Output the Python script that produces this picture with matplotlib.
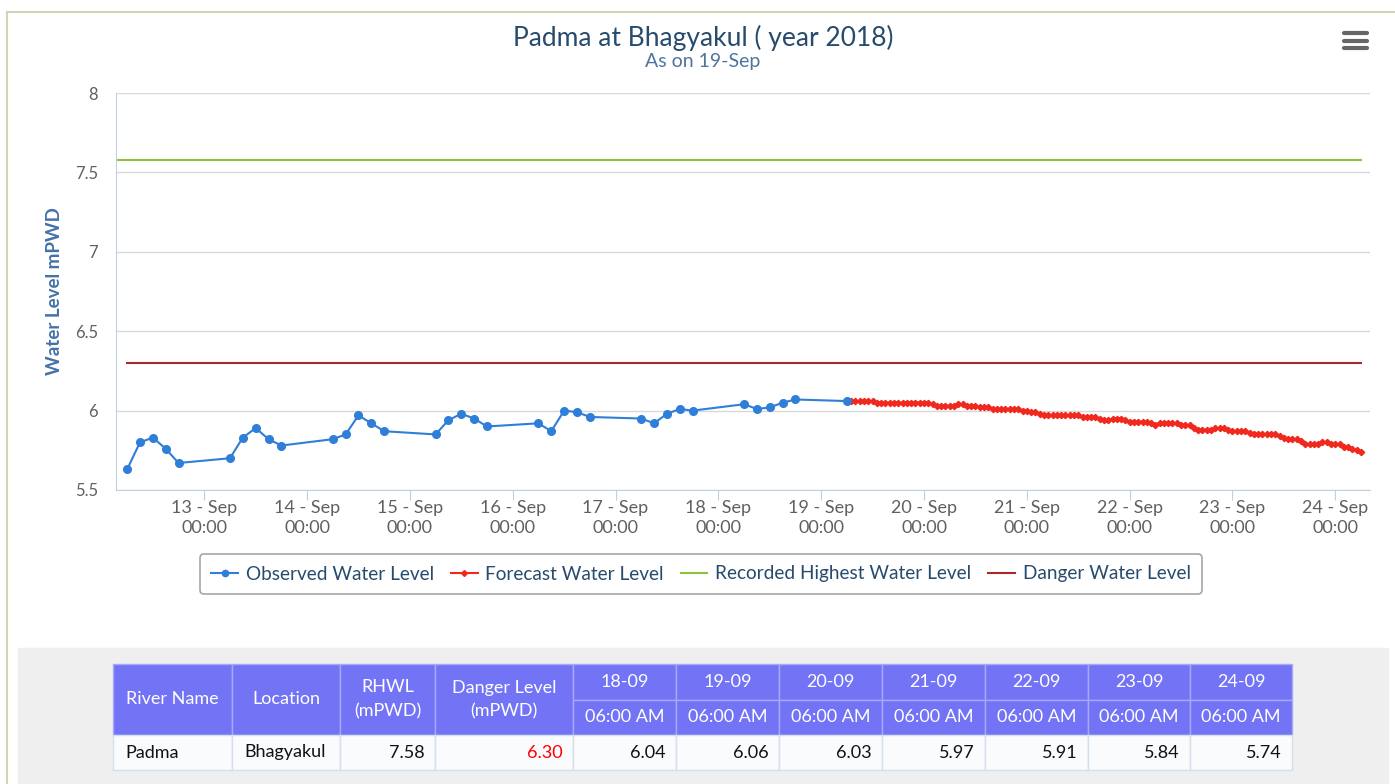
import pandas as pd
import matplotlib
matplotlib.use('Agg')
import matplotlib.pyplot as plt
import matplotlib.dates as mdates
from matplotlib.lines import Line2D
from matplotlib.patches import Rectangle

plt.rcParams['font.family'] = ['Lato', 'DejaVu Sans']

title = 'Padma at Bhagyakul ( year 2018)'
subtitle = 'As on 19-Sep'

# observed readings, 5 per day (06, 09, 12, 15, 18 h) + 19 Sep 06:00
obs_days = ['2018-09-12', '2018-09-13', '2018-09-14', '2018-09-15',
            '2018-09-16', '2018-09-17', '2018-09-18']
obs_hours = [6, 9, 12, 15, 18]
obs_last = '2018-09-19 06:00'
obs_level = [5.63, 5.80, 5.83, 5.76, 5.67,
             5.70, 5.83, 5.89, 5.82, 5.78,
             5.82, 5.85, 5.97, 5.92, 5.87,
             5.85, 5.94, 5.98, 5.95, 5.90,
             5.92, 5.87, 6.00, 5.99, 5.96,
             5.95, 5.92, 5.98, 6.01, 6.00,
             6.04, 6.01, 6.02, 6.05, 6.07,
             6.06]

# hourly forecast starting 19 Sep 06:00
fc_start = '2018-09-19 06:00'
fc_level = [6.06, 6.06, 6.06, 6.06, 6.06, 6.06, 6.06, 6.05, 6.05, 6.05, 6.05, 6.05,
            6.05, 6.05, 6.05, 6.05, 6.05, 6.05, 6.05, 6.05, 6.04, 6.03, 6.03, 6.03,
            6.03, 6.03, 6.04, 6.04, 6.03, 6.03, 6.03, 6.02, 6.02, 6.02, 6.01, 6.01,
            6.01, 6.01, 6.01, 6.01, 6.01, 6.00, 6.00, 5.99, 5.99, 5.98, 5.97, 5.97,
            5.97, 5.97, 5.97, 5.97, 5.97, 5.97, 5.97, 5.96, 5.96, 5.96, 5.96, 5.95,
            5.94, 5.94, 5.95, 5.95, 5.95, 5.94, 5.93, 5.93, 5.93, 5.93, 5.93, 5.92,
            5.91, 5.92, 5.92, 5.92, 5.92, 5.92, 5.91, 5.91, 5.91, 5.89, 5.88, 5.88,
            5.88, 5.88, 5.89, 5.89, 5.89, 5.88, 5.87, 5.87, 5.87, 5.87, 5.86, 5.85,
            5.85, 5.85, 5.85, 5.85, 5.85, 5.84, 5.83, 5.82, 5.82, 5.82, 5.81, 5.79,
            5.79, 5.79, 5.79, 5.80, 5.80, 5.79, 5.79, 5.79, 5.77, 5.77, 5.76, 5.75,
            5.74]

rhwl = 7.58
danger = 6.30

tick_days = ['2018-09-%02d' % d for d in range(13, 25)]

# table
tbl_head = ['River Name', 'Location', 'RHWL\n(mPWD)', 'Danger Level\n(mPWD)']
tbl_row = ['Padma', 'Bhagyakul', '7.58', '6.30']
tbl_dates = ['18-09', '19-09', '20-09', '21-09', '22-09', '23-09', '24-09']
tbl_times = ['06:00 AM'] * 7
tbl_values = [6.04, 6.06, 6.03, 5.97, 5.91, 5.84, 5.74]

obs_times = [pd.Timestamp(d) + pd.Timedelta(hours=h) for d in obs_days for h in obs_hours]
obs_times.append(pd.Timestamp(obs_last))
fc_times = pd.date_range(fc_start, periods=len(fc_level), freq='h')

W, H = 1395, 784
fig = plt.figure(figsize=(W / 100, H / 100), dpi=100)

# background overlay in pixel coords
ov = fig.add_axes([0, 0, 1, 1], zorder=0)
ov.set_xlim(0, W)
ov.set_ylim(H, 0)
ov.axis('off')

ax = fig.add_axes([116 / W, 1 - 490 / H, 1254 / W, 397 / H], zorder=1)
ax.set_facecolor('none')

blue = '#2f7ed8'
red = '#f0281e'
green = '#8fc23a'
dred = '#aa2a2a'

x0 = obs_times[0] - pd.Timedelta(hours=2.6)
x1 = fc_times[-1] + pd.Timedelta(hours=2.1)

ax.plot([x0, fc_times[-1]], [rhwl, rhwl], color=green, lw=1.5, zorder=2)
ax.plot([obs_times[0], fc_times[-1]], [danger, danger], color=dred, lw=1.5, zorder=2)
ax.plot(fc_times, fc_level, color=red, lw=1.5, marker='D', ms=3.2, zorder=3)
ax.plot(obs_times, obs_level, color=blue, lw=1.5, marker='o', ms=5.5, zorder=4)

ax.set_xlim(x0, x1)
ax.set_ylim(5.5, 8)
ax.set_yticks([5.5, 6, 6.5, 7, 7.5, 8])
ax.set_yticklabels(['5.5', '6', '6.5', '7', '7.5', '8'])
ax.set_xticks([pd.Timestamp(d) for d in tick_days])
ax.xaxis.set_major_formatter(mdates.DateFormatter('%d - %b\n%H:%M'))
for t in ax.get_xticklabels():
    t.set_linespacing(1.3)

ax.grid(axis='y', color='#d8d8d8', lw=1)
ax.set_axisbelow(True)
for s in ['top', 'right']:
    ax.spines[s].set_visible(False)
ax.spines['left'].set_color('#c0d0e0')
ax.spines['bottom'].set_color('#c0d0e0')
ax.tick_params(axis='x', length=7.5, color='#c0d0e0', labelsize=13,
               labelcolor='#606060', pad=0)
ax.tick_params(axis='y', length=0, labelsize=12, labelcolor='#606060', pad=13)

fig.text(55 / W, 1 - 291 / H, 'Water Level mPWD', rotation=90, ha='center', va='center',
         fontsize=13.5, fontweight='bold', color='#4572a7')
fig.text(703 / W, 1 - 38 / H, title, ha='center', va='center', fontsize=19, color='#274b6d')
fig.text(703 / W, 1 - 62 / H, subtitle, ha='center', va='center', fontsize=14, color='#4d759e')

handles = [Line2D([], [], color=blue, marker='o', ms=4.5, lw=1.5),
           Line2D([], [], color=red, marker='D', ms=3, lw=1.5),
           Line2D([], [], color=green, lw=1.5),
           Line2D([], [], color=dred, lw=1.5)]
labels = ['Observed Water Level', 'Forecast Water Level',
          'Recorded Highest Water Level', 'Danger Water Level']
leg = fig.legend(handles, labels, loc='center', bbox_to_anchor=(701 / W, 1 - 574 / H),
                 ncol=4, fontsize=13.7, frameon=True, fancybox=True, edgecolor='#909090',
                 handlelength=1.4, handletextpad=0.4, columnspacing=0.9,
                 borderpad=0.6, labelcolor='#274b6d')
leg.get_frame().set_linewidth(1.2)

# page border
ov.plot([7, W], [12, 12], color='#d6d2b5', lw=1.5)
ov.plot([7, 7], [12, H], color='#d6d2b5', lw=1.5)

# menu icon
for yy in [33, 40.5, 48]:
    ov.plot([1344, 1367], [yy, yy], color='#666666', lw=3, solid_capstyle='round')

# table panel
ov.add_patch(Rectangle((18, 648), 1370, H - 648, color='#efefef', zorder=0))
edges = [113, 232, 340, 435, 573, 676, 779, 882, 985, 1088, 1190, 1292]
r0, r1, r2, r3 = 664, 700, 735, 770
head_c = '#7373f6'
head_e = '#a8a8fb'
fs = 13
for i, lab in enumerate(tbl_head):
    ov.add_patch(Rectangle((edges[i], r0), edges[i + 1] - edges[i], r2 - r0,
                           facecolor=head_c, edgecolor=head_e, lw=1, zorder=1))
    ov.text((edges[i] + edges[i + 1]) / 2, (r0 + r2) / 2, lab, ha='center', va='center',
            color='white', fontsize=fs, linespacing=1.6, zorder=2)
for j, (d, t) in enumerate(zip(tbl_dates, tbl_times)):
    a, b = edges[4 + j], edges[5 + j]
    ov.add_patch(Rectangle((a, r0), b - a, r1 - r0, facecolor=head_c, edgecolor=head_e,
                           lw=1, zorder=1))
    ov.add_patch(Rectangle((a, r1), b - a, r2 - r1, facecolor=head_c, edgecolor=head_e,
                           lw=1, zorder=1))
    ov.text((a + b) / 2, (r0 + r1) / 2, d, ha='center', va='center', color='white',
            fontsize=fs, zorder=2)
    ov.text((a + b) / 2, (r1 + r2) / 2, t, ha='center', va='center', color='white',
            fontsize=fs, zorder=2)

row_vals = tbl_row + ['%.2f' % v for v in tbl_values]
for k, v in enumerate(row_vals):
    a, b = edges[k], edges[k + 1]
    ov.add_patch(Rectangle((a, r2), b - a, r3 - r2, facecolor='#f9fbfd', edgecolor='#d4e0ee',
                           lw=1, zorder=1))
    col = '#ff0000' if k == 3 else '#111111'
    if k < 2:
        ov.text(a + 12, (r2 + r3) / 2, v, ha='left', va='center', color=col, fontsize=fs, zorder=2)
    else:
        ov.text(b - 10, (r2 + r3) / 2, v, ha='right', va='center', color=col, fontsize=fs, zorder=2)

fig.savefig('out.png', dpi=100)
